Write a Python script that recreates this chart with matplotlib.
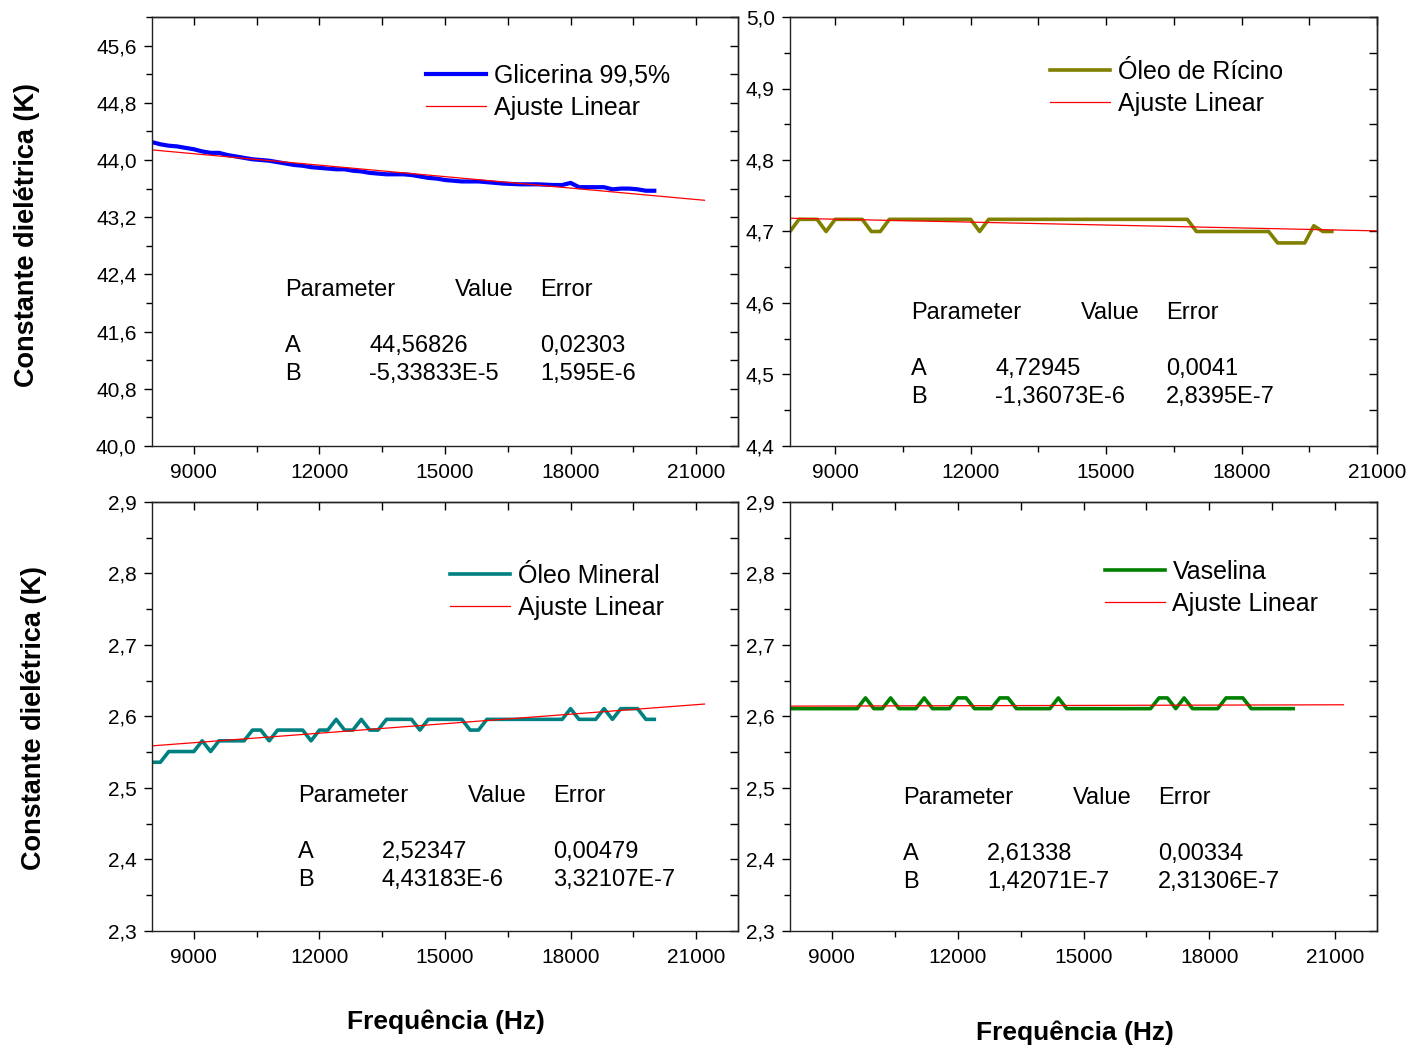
import matplotlib
matplotlib.use('Agg')
from matplotlib import pyplot as plt
from matplotlib.ticker import MultipleLocator, FuncFormatter

plt.rcParams['font.family'] = ['Liberation Sans', 'DejaVu Sans']

# frequency grid (Hz), one reading every 200 Hz
freq = list(range(8000, 20001, 200))

glicerina = [44.25, 44.22, 44.20, 44.19, 44.17, 44.15, 44.12, 44.10, 44.10, 44.07,
             44.05, 44.03, 44.01, 44.00, 43.99, 43.97, 43.95, 43.93, 43.92, 43.90,
             43.89, 43.88, 43.87, 43.87, 43.85, 43.84, 43.82, 43.81, 43.80, 43.80,
             43.80, 43.79, 43.77, 43.75, 43.74, 43.72, 43.71, 43.70, 43.70, 43.70,
             43.69, 43.68, 43.67, 43.665, 43.66, 43.66, 43.66, 43.655, 43.65, 43.65,
             43.68, 43.62, 43.62, 43.62, 43.62, 43.59, 43.60, 43.60, 43.59, 43.57,
             43.57]

ricino = [4.700, 4.717, 4.717, 4.717, 4.700, 4.717, 4.717, 4.717, 4.717, 4.700,
          4.700, 4.717, 4.717, 4.717, 4.717, 4.717, 4.717, 4.717, 4.717, 4.717,
          4.717, 4.700, 4.717, 4.717, 4.717, 4.717, 4.717, 4.717, 4.717, 4.717,
          4.717, 4.717, 4.717, 4.717, 4.717, 4.717, 4.717, 4.717, 4.717, 4.717,
          4.717, 4.717, 4.717, 4.717, 4.717, 4.700, 4.700, 4.700, 4.700, 4.700,
          4.700, 4.700, 4.700, 4.700, 4.684, 4.684, 4.684, 4.684, 4.708, 4.700,
          4.700]

mineral = [2.536, 2.536, 2.551, 2.551, 2.551, 2.551, 2.566, 2.551, 2.566, 2.566,
           2.566, 2.566, 2.581, 2.581, 2.566, 2.581, 2.581, 2.581, 2.581, 2.566,
           2.581, 2.581, 2.596, 2.581, 2.581, 2.596, 2.581, 2.581, 2.596, 2.596,
           2.596, 2.596, 2.581, 2.596, 2.596, 2.596, 2.596, 2.596, 2.581, 2.581,
           2.596, 2.596, 2.596, 2.596, 2.596, 2.596, 2.596, 2.596, 2.596, 2.596,
           2.611, 2.596, 2.596, 2.596, 2.611, 2.596, 2.611, 2.611, 2.611, 2.596,
           2.596]

vaselina = [2.611, 2.611, 2.611, 2.611, 2.611, 2.611, 2.611, 2.611, 2.611, 2.626,
            2.611, 2.611, 2.626, 2.611, 2.611, 2.611, 2.626, 2.611, 2.611, 2.611,
            2.626, 2.626, 2.611, 2.611, 2.611, 2.626, 2.626, 2.611, 2.611, 2.611,
            2.611, 2.611, 2.626, 2.611, 2.611, 2.611, 2.611, 2.611, 2.611, 2.611,
            2.611, 2.611, 2.611, 2.611, 2.626, 2.626, 2.611, 2.626, 2.611, 2.611,
            2.611, 2.611, 2.626, 2.626, 2.626, 2.611, 2.611, 2.611, 2.611, 2.611,
            2.611]

# linear fit parameters as printed in the boxes
fit_A = ['44,56826', '4,72945', '2,52347', '2,61338']
fit_B = ['-5,33833E-5', '-1,36073E-6', '4,43183E-6', '1,42071E-7']
err_A = ['0,02303', '0,0041', '0,00479', '0,00334']
err_B = ['1,595E-6', '2,8395E-7', '3,32107E-7', '2,31306E-7']
A_val = [44.56826, 4.72945, 2.52347, 2.61338]
B_val = [-5.33833e-5, -1.36073e-6, 4.43183e-6, 1.42071e-7]
fit_x = [8000, 21200]

names = ['Glicerina 99,5%', 'Óleo de Rícino', 'Óleo Mineral', 'Vaselina']
series = [glicerina, ricino, mineral, vaselina]
colors = ['#0000ff', '#808000', '#008080', '#008000']
widths = [3.0, 2.6, 2.6, 2.6]

W, H = 1414, 1049
fig = plt.figure(figsize=(W / 100, H / 100), dpi=100)

# axes boxes in pixels: left, top, right, bottom
boxes = [(152, 17, 738, 446), (790, 17, 1377, 446),
         (152, 502, 738, 931), (790, 502, 1377, 931)]
xlims = [(8000, 22000), (8000, 21000), (8000, 22000), (8000, 22000)]
ylims = [(40.0, 46.0), (4.4, 5.0), (2.3, 2.9), (2.3, 2.9)]
ymaj = [0.8, 0.1, 0.1, 0.1]
leg_pos = [(426, 64), (1050, 60), (450, 564), (1105, 560)]
par_pos = [(285, 290), (911, 313), (298, 796), (903, 798)]

comma = FuncFormatter(lambda v, p: ('%.1f' % v).replace('.', ','))
xfmt = FuncFormatter(lambda v, p: '%d' % v)

for k in range(4):
    l, t, r, b = boxes[k]
    ax = fig.add_axes([l / W, 1 - b / H, (r - l) / W, (b - t) / H])
    ax.plot(freq, series[k], color=colors[k], lw=widths[k], label=names[k])
    fy = [A_val[k] + B_val[k] * x for x in fit_x]
    ax.plot(fit_x, fy, color='#ff0000', lw=0.9, label='Ajuste Linear')
    ax.set_xlim(*xlims[k])
    ax.set_ylim(*ylims[k])
    ax.xaxis.set_major_locator(MultipleLocator(3000))
    ax.xaxis.set_minor_locator(MultipleLocator(1500))
    ax.yaxis.set_major_locator(MultipleLocator(ymaj[k]))
    ax.yaxis.set_minor_locator(MultipleLocator(ymaj[k] / 2))
    ax.xaxis.set_major_formatter(xfmt)
    ax.yaxis.set_major_formatter(comma)
    ax.tick_params(which='major', direction='out', length=6, width=1, labelsize=15, pad=5)
    ax.tick_params(which='minor', direction='out', length=4, width=1)
    ax.tick_params(axis='x', which='major', pad=6)
    for s in ax.spines.values():
        s.set_linewidth(1.0)
        s.set_color('#222222')
    # inward ticks on top and right
    top = ax.secondary_xaxis('top')
    top.xaxis.set_major_locator(MultipleLocator(3000))
    top.xaxis.set_minor_locator(MultipleLocator(1500))
    top.tick_params(which='both', direction='in', length=6, width=1, labeltop=False)
    right = ax.secondary_yaxis('right')
    right.yaxis.set_major_locator(MultipleLocator(ymaj[k]))
    right.yaxis.set_minor_locator(MultipleLocator(ymaj[k] / 2))
    right.tick_params(which='both', direction='in', length=6, width=1, labelright=False)
    for s in list(top.spines.values()) + list(right.spines.values()):
        s.set_linewidth(1.0)
        s.set_color('#222222')

    lx, ly = leg_pos[k]
    ax.legend(loc='upper left', bbox_to_anchor=(lx / W, 1 - ly / H),
              bbox_transform=fig.transFigure, frameon=False, fontsize=18,
              handlelength=2.4, handletextpad=0.3, labelspacing=0.3,
              borderpad=0, borderaxespad=0)

    px, py = par_pos[k]
    def put(x, y, s):
        fig.text(x / W, 1 - y / H, s, fontsize=17, va='center', ha='left')
    put(px, py, 'Parameter')
    put(px + 170, py, 'Value')
    put(px + 255, py, 'Error')
    put(px, py + 56, 'A')
    put(px + 84, py + 56, fit_A[k])
    put(px + 255, py + 56, err_A[k])
    put(px, py + 84, 'B')
    put(px + 84, py + 84, fit_B[k])
    put(px + 255, py + 84, err_B[k])

fig.text(27 / W, 1 - 235 / H, 'Constante dielétrica (K)', rotation=90,
         fontsize=19.5, fontweight='bold', ha='center', va='center')
fig.text(34 / W, 1 - 718 / H, 'Constante dielétrica (K)', rotation=90,
         fontsize=19.5, fontweight='bold', ha='center', va='center')
fig.text(446 / W, 1 - 1022 / H, 'Frequência (Hz)',
         fontsize=19, fontweight='bold', ha='center', va='center')
fig.text(1075 / W, 1 - 1033 / H, 'Frequência (Hz)',
         fontsize=19, fontweight='bold', ha='center', va='center')

fig.savefig('out.png', dpi=100)
